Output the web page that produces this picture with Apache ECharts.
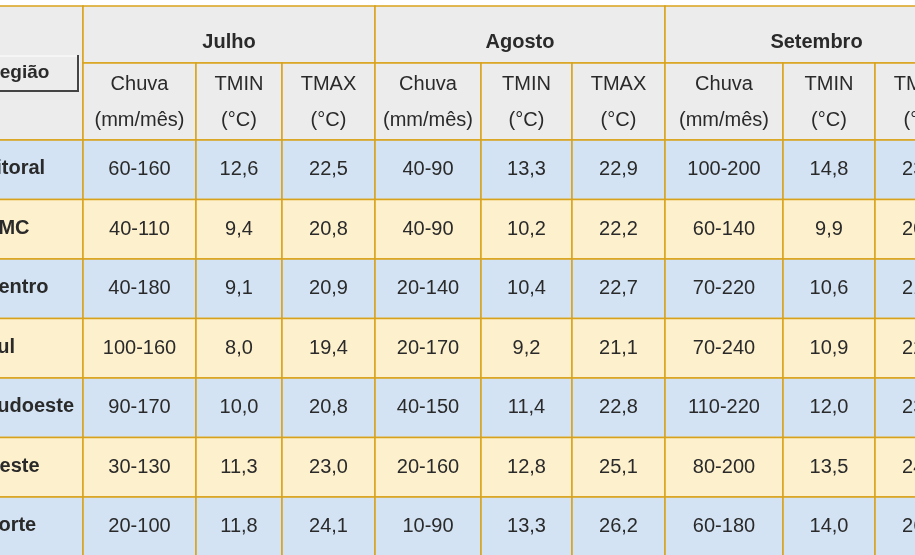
<!DOCTYPE html>
<html><head><meta charset="utf-8">
<script src="https://cdn.jsdelivr.net/npm/echarts@6/dist/echarts.min.js"></script>
<style>html,body{margin:0;padding:0;background:#fff}#c{width:915px;height:555px}</style>
</head><body><div id="c"></div>
<script>
const months = ['Julho','Agosto','Setembro'];
const subHeaders = [['Chuva','(mm/mês)'],['TMIN','(°C)'],['TMAX','(°C)']];
const regions = ['Litoral','RMC','Centro','Sul','Sudoeste','Oeste','Norte'];
const julho = [['60-160','12,6','22,5'],['40-110','9,4','20,8'],['40-180','9,1','20,9'],['100-160','8,0','19,4'],['90-170','10,0','20,8'],['30-130','11,3','23,0'],['20-100','11,8','24,1']];
const agosto = [['40-90','13,3','22,9'],['40-90','10,2','22,2'],['20-140','10,4','22,7'],['20-170','9,2','21,1'],['40-150','11,4','22,8'],['20-160','12,8','25,1'],['10-90','13,3','26,2']];
const setembro = [['100-200','14,8','23,5'],['60-140','9,9','20,8'],['70-220','10,6','21,9'],['70-240','10,9','22,5'],['110-220','12,0','23,4'],['80-200','13,5','24,9'],['60-180','14,0','26,6']];
const monthData = [julho, agosto, setembro];

const colX = [83,196,282,375,481,572,665,783,875,968];
const top0 = 6, monthBottom = 63, headBottom = 140, rowH = 59.5;
const border = '#d9a21b', txt = '#2a2a2a';
const g = [];
function rect(x,y,w,h,fill){g.push({type:'rect',shape:{x,y,width:w,height:h},style:{fill,stroke:border,lineWidth:1.5}});}
function text(x,y,s,opt){g.push({type:'text',x,y,style:Object.assign({text:s,fill:txt,font:'20px "Liberation Sans", Arial',textAlign:'center',textVerticalAlign:'middle'},opt||{})});}
rect(-20,top0,103,headBottom-top0,'#ececec');
months.forEach((m,i)=>{
  const x0=colX[i*3], x1=colX[i*3+3];
  rect(x0,top0,x1-x0,monthBottom-top0,'#ececec');
  text((x0+x1)/2,(top0+monthBottom)/2+8,m,{font:'bold 20px "Liberation Sans", Arial'});
  subHeaders.forEach((sh,j)=>{
    const a=colX[i*3+j], b=colX[i*3+j+1];
    rect(a,monthBottom,b-a,headBottom-monthBottom,'#ececec');
    text((a+b)/2,84,sh[0]);
    text((a+b)/2,120,sh[1]);
  });
});
g.push({type:'rect',shape:{x:-20,y:56,width:99,height:35},style:{fill:'#ececec',stroke:'#fff',lineWidth:1}});
g.push({type:'line',shape:{x1:78,y1:55,x2:78,y2:92},style:{stroke:'#444',lineWidth:2}});
g.push({type:'line',shape:{x1:-20,y1:91,x2:79,y2:91},style:{stroke:'#444',lineWidth:2}});
text(-14,73,'Região',{textAlign:'left',font:'bold 19px "Liberation Sans", Arial'});
regions.forEach((r,ri)=>{
  const y=headBottom+ri*rowH, fill= ri%2===0 ? '#d3e3f3' : '#fdf0cd';
  rect(-20,y,103,rowH,fill);
  text(-16,y+rowH/2-1,r,{textAlign:'left',font:'bold 20px "Liberation Sans", Arial'});
  monthData.forEach((md,mi)=>{
    md[ri].forEach((v,vi)=>{
      const a=colX[mi*3+vi], b=colX[mi*3+vi+1];
      rect(a,y,b-a,rowH,fill);
      text((a+b)/2,y+rowH/2,v);
    });
  });
});
const chart = echarts.init(document.getElementById('c'));
chart.setOption({animation:false,graphic:{elements:g}});
</script></body></html>
